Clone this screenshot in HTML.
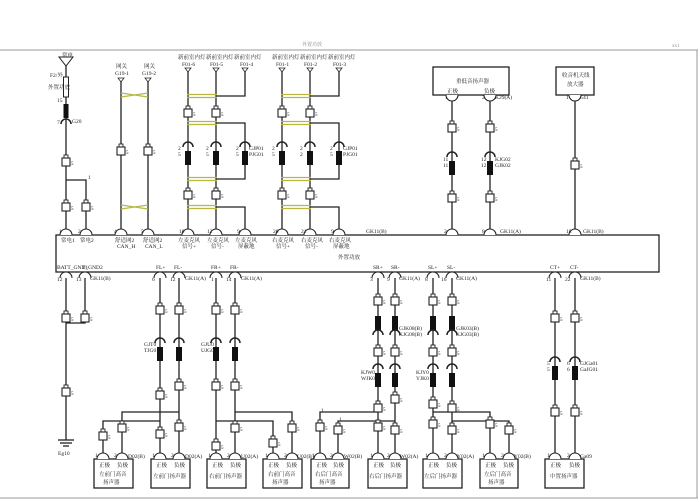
<!DOCTYPE html>
<html><head><meta charset="utf-8">
<style>
html,body{margin:0;padding:0;background:#fff;}
svg{display:block;font-family:"Liberation Serif","Noto Serif CJK SC","Noto Sans CJK SC",serif;}
text{font-size:5.5px;fill:#222;}
</style></head>
<body>
<svg width="700" height="502" viewBox="0 0 700 502" xmlns="http://www.w3.org/2000/svg">
<defs>
<g id="c"><rect x="-2" y="-7" width="4" height="3" fill="#fff" stroke="#222" stroke-width="0.9"/><rect x="-4" y="-4" width="8" height="8" fill="#fff" stroke="#222" stroke-width="1.1"/><text x="5" y="3" style="font-size:5px">5</text></g>
<g id="b"><path d="M-5,-4 A5,5 0 0 1 5,-4" fill="none" stroke="#222" stroke-width="1.5"/><rect x="-3" y="0" width="6" height="14" fill="#111"/></g>
<g id="bu"><rect x="-3" y="-14" width="6" height="14" fill="#111"/><path d="M-5,5 A5,5 0 0 1 5,5" fill="none" stroke="#222" stroke-width="1.5"/></g>
<path id="p" d="M-6,0 A6,6 0 0 1 6,0" fill="#fff" stroke="#222" stroke-width="1.1"/>
<g id="tw"><line x1="0" y1="-1.5" x2="30" y2="-1.5" stroke="#b8b840" stroke-width="1.3"/><line x1="0" y1="1.5" x2="30" y2="1.5" stroke="#b8b840" stroke-width="1.3"/></g>
</defs>

<!-- frame -->
<line x1="0" y1="50" x2="698" y2="50" stroke="#999" stroke-width="1"/>
<line x1="697" y1="50" x2="697" y2="498" stroke="#999" stroke-width="1"/>
<line x1="0" y1="498" x2="698" y2="498" stroke="#999" stroke-width="1"/>
<text x="302" y="46" style="font-size:5px;fill:#888">外置功放</text>
<text x="672" y="47" style="font-size:5px;fill:#888">xx1</text>

<g stroke="#222" stroke-width="1.3" fill="none">
<rect x="56" y="235" width="603" height="37"/>
<line x1="66" y1="66" x2="66" y2="235"/>
<polyline points="66,180 86,180 86,235"/>
<line x1="121" y1="78" x2="121" y2="235"/>
<line x1="148" y1="78" x2="148" y2="235"/>
<line x1="188" y1="68" x2="188" y2="235"/>
<line x1="216" y1="68" x2="216" y2="235"/>
<polyline points="245,68 245,96 216,96"/>
<polyline points="216,123 245,123 245,179 216,179"/>
<polyline points="216,207 245,207 245,235"/>
<line x1="282" y1="68" x2="282" y2="235"/>
<line x1="310" y1="68" x2="310" y2="235"/>
<polyline points="339,68 339,96 310,96"/>
<polyline points="310,123 339,123 339,179 310,179"/>
<polyline points="310,207 339,207 339,235"/>
<rect x="433" y="67" width="76" height="28"/>
<line x1="452" y1="95" x2="452" y2="235"/>
<line x1="490" y1="95" x2="490" y2="235"/>
<rect x="556" y="67" width="38" height="28"/>
<line x1="575" y1="95" x2="575" y2="235"/>

<line x1="66" y1="272" x2="66" y2="440"/>
<polyline points="85,272 85,323 66,323"/>
<line x1="58" y1="440" x2="74" y2="440"/>
<line x1="60" y1="443" x2="72" y2="443"/>
<line x1="63" y1="446" x2="69" y2="446"/>

<line x1="160" y1="272" x2="160" y2="459"/>
<line x1="179" y1="272" x2="179" y2="459"/>
<polyline points="122,459 122,412 179,412"/>
<polyline points="103,459 103,421 160,421"/>
<line x1="216" y1="272" x2="216" y2="459"/>
<line x1="235" y1="272" x2="235" y2="459"/>
<polyline points="292,459 292,412 235,412"/>
<polyline points="273,459 273,421 216,421"/>

<line x1="378" y1="272" x2="378" y2="459"/>
<line x1="395" y1="272" x2="395" y2="459"/>
<polyline points="320,459 320,412 378,412"/>
<polyline points="338,459 338,421 395,421"/>
<line x1="433" y1="272" x2="433" y2="459"/>
<line x1="452" y1="272" x2="452" y2="459"/>
<polyline points="490,459 490,412 433,412"/>
<polyline points="509,459 509,421 452,421"/>
<line x1="555" y1="272" x2="555" y2="459"/>
<line x1="575" y1="272" x2="575" y2="459"/>

<rect x="94" y="459" width="39" height="29"/>
<rect x="151" y="459" width="39" height="29"/>
<rect x="207" y="459" width="39" height="29"/>
<rect x="263" y="459" width="39" height="29"/>
<rect x="311" y="459" width="38" height="29"/>
<rect x="368" y="459" width="39" height="29"/>
<rect x="423" y="459" width="39" height="29"/>
<rect x="480" y="459" width="38" height="29"/>
<rect x="545" y="459" width="39" height="29"/>
</g>

<path d="M59,57 L73,57 L66,66 Z" fill="#fff" stroke="#222" stroke-width="1"/>
<rect x="63.5" y="77" width="5" height="20" fill="#fff" stroke="#222" stroke-width="1"/>
<rect x="63.5" y="104" width="5" height="14" fill="#111"/>
<path d="M61,124 A5,5 0 0 1 71,124" fill="none" stroke="#222" stroke-width="1.5"/>
<text x="62" y="57">常电</text>
<text x="50" y="77">F2/外</text>
<text x="48" y="89">外置功放</text>
<text x="57" y="102">15</text>
<text x="57" y="124">7</text><text x="72" y="123">G20</text>
<use href="#c" x="66" y="162"/><use href="#c" x="66" y="207"/><use href="#c" x="86" y="207"/>
<text x="88" y="179">1</text>

<g stroke="#b8b840" stroke-width="1.2" fill="none">
<path d="M121,93 L148,97 M121,97 L148,93"/>
<path d="M121,205 L148,209 M121,209 L148,205"/>
</g>
<path d="M118,78 L124,78 L121,82Z M145,78 L151,78 L148,82Z" fill="#fff" stroke="#222" stroke-width="0.8"/>
<text x="116" y="68">网关</text><text x="115" y="75">G19-1</text>
<text x="144" y="68">网关</text><text x="142" y="75">G19-2</text>
<use href="#c" x="121" y="151"/><use href="#c" x="148" y="151"/>

<path d="M185,68 L191,68 L188,72Z M213,68 L219,68 L216,72Z M242,68 L248,68 L245,72Z M279,68 L285,68 L282,72Z M307,68 L313,68 L310,72Z M336,68 L342,68 L339,72Z" fill="#fff" stroke="#222" stroke-width="0.8"/>
<text x="178" y="59">新前室内灯</text><text x="206" y="59">新前室内灯</text><text x="234" y="59">新前室内灯</text>
<text x="182" y="66">F01-6</text><text x="210" y="66">F01-5</text><text x="240" y="66">F01-4</text>
<text x="272" y="59">新前室内灯</text><text x="300" y="59">新前室内灯</text><text x="328" y="59">新前室内灯</text>
<text x="276" y="66">F01-1</text><text x="304" y="66">F01-2</text><text x="333" y="66">F01-3</text>
<use href="#tw" x="187" y="96"/><use href="#tw" x="187" y="123"/><use href="#tw" x="187" y="179"/><use href="#tw" x="187" y="207"/>
<use href="#tw" x="281" y="96"/><use href="#tw" x="281" y="123"/><use href="#tw" x="281" y="179"/><use href="#tw" x="281" y="207"/>
<use href="#c" x="188" y="113"/><use href="#c" x="216" y="113"/><use href="#c" x="282" y="113"/><use href="#c" x="310" y="113"/>
<use href="#c" x="188" y="195"/><use href="#c" x="216" y="195"/><use href="#c" x="282" y="195"/><use href="#c" x="310" y="195"/>
<use href="#b" x="188" y="151"/><use href="#b" x="216" y="151"/><use href="#b" x="245" y="151"/>
<use href="#b" x="282" y="151"/><use href="#b" x="310" y="151"/><use href="#b" x="339" y="151"/>
<text x="178" y="150">2</text><text x="178" y="156">5</text><text x="206" y="150">2</text><text x="206" y="156">5</text>
<text x="236" y="150">2</text><text x="236" y="156">5</text><text x="249" y="150">GJP01</text><text x="249" y="156">PJG01</text>
<text x="272" y="150">2</text><text x="272" y="156">5</text><text x="300" y="150">2</text><text x="300" y="156">2</text>
<text x="330" y="150">2</text><text x="330" y="156">5</text><text x="343" y="150">GJP01</text><text x="343" y="156">PJG01</text>

<text x="456" y="83">重低音扬声器</text>
<text x="447" y="93">正极</text><text x="484" y="93">负极</text>
<text x="562" y="77">收音机天线</text><text x="567" y="86">放大器</text>
<text x="445" y="99">1</text><text x="482" y="99">2</text><text x="495" y="99">K29(A)</text>
<text x="566" y="99">1</text><text x="579" y="99">G41</text>
<use href="#p" x="452" y="95" transform="rotate(180 452 95)"/>
<use href="#p" x="490" y="95" transform="rotate(180 490 95)"/>
<use href="#p" x="575" y="95" transform="rotate(180 575 95)"/>
<use href="#c" x="452" y="128"/><use href="#c" x="490" y="128"/>
<use href="#b" x="452" y="161"/><use href="#b" x="490" y="161"/>
<text x="443" y="161">11</text><text x="443" y="167">11</text><text x="481" y="161">12</text><text x="481" y="167">12</text>
<text x="495" y="161">KJG02</text><text x="495" y="167">GJK02</text>
<use href="#c" x="452" y="198"/><use href="#c" x="490" y="198"/>
<use href="#c" x="575" y="165"/>

<g>
<use href="#p" x="66" y="235"/><use href="#p" x="86" y="235"/><use href="#p" x="121" y="235"/><use href="#p" x="148" y="235"/>
<use href="#p" x="188" y="235"/><use href="#p" x="216" y="235"/><use href="#p" x="245" y="235"/>
<use href="#p" x="282" y="235"/><use href="#p" x="310" y="235"/><use href="#p" x="339" y="235"/>
<use href="#p" x="452" y="235"/><use href="#p" x="490" y="235"/><use href="#p" x="575" y="235"/>
</g>
<text x="59" y="233">1</text><text x="78" y="233">2</text><text x="114" y="233">4</text><text x="141" y="233">5</text>
<text x="179" y="233">10</text><text x="207" y="233">12</text><text x="237" y="233">9</text>
<text x="273" y="233">20</text><text x="301" y="233">21</text><text x="331" y="233">9</text>
<text x="366" y="233">GK11(B)</text>
<text x="444" y="233">2</text><text x="482" y="233">8</text><text x="500" y="233">GK11(A)</text>
<text x="566" y="233">18</text><text x="583" y="233">GK11(B)</text>
<text x="61" y="242">常电1</text><text x="80" y="242">常电2</text>
<text x="115" y="242">舒适网2</text><text x="117" y="248">CAN_H</text>
<text x="143" y="242">舒适网2</text><text x="145" y="248">CAN_L</text>
<text x="178" y="242">左麦克风</text><text x="182" y="248">信号+</text>
<text x="207" y="242">左麦克风</text><text x="211" y="248">信号-</text>
<text x="235" y="242">左麦克风</text><text x="238" y="248">屏蔽地</text>
<text x="272" y="242">右麦克风</text><text x="276" y="248">信号+</text>
<text x="301" y="242">右麦克风</text><text x="305" y="248">信号-</text>
<text x="329" y="242">右麦克风</text><text x="333" y="248">屏蔽地</text>
<text x="338" y="259">外置功放</text>
<text x="57" y="269">BATT_GND1</text><text x="82" y="269">T_GND2</text>
<text x="156" y="269">FL+</text><text x="174" y="269">FL-</text><text x="211" y="269">FR+</text><text x="230" y="269">FR-</text>
<text x="373" y="269">SR+</text><text x="391" y="269">SR-</text><text x="428" y="269">SL+</text><text x="447" y="269">SL-</text>
<text x="550" y="269">CT+</text><text x="570" y="269">CT-</text>

<g transform="translate(0,278)">
<use href="#p" x="66"/><use href="#p" x="85"/><use href="#p" x="160"/><use href="#p" x="179"/><use href="#p" x="216"/><use href="#p" x="235"/>
<use href="#p" x="378"/><use href="#p" x="395"/><use href="#p" x="433"/><use href="#p" x="452"/><use href="#p" x="555"/><use href="#p" x="575"/>
</g>
<text x="57" y="281">12</text><text x="76" y="281">13</text><text x="90" y="280">GK11(B)</text>
<text x="152" y="281">6</text><text x="170" y="281">12</text><text x="185" y="280">GK11(A)</text>
<text x="211" y="281">1</text><text x="226" y="281">14</text><text x="241" y="280">GK11(A)</text>
<text x="370" y="281">3</text><text x="387" y="281">9</text><text x="399" y="280">GK11(A)</text>
<text x="425" y="281">8</text><text x="441" y="281">16</text><text x="456" y="280">GK11(A)</text>
<text x="546" y="281">11</text><text x="565" y="281">22</text><text x="580" y="280">GK11(B)</text>

<use href="#c" x="66" y="318"/><use href="#c" x="85" y="318"/><use href="#c" x="66" y="392"/>
<text x="58" y="455">Eg10</text>
<use href="#c" x="160" y="310"/><use href="#c" x="179" y="310"/><use href="#c" x="216" y="310"/><use href="#c" x="235" y="310"/>
<use href="#b" x="160" y="347"/><use href="#b" x="179" y="347"/><use href="#b" x="216" y="347"/><use href="#b" x="235" y="347"/>
<text x="144" y="346">GJT0</text><text x="144" y="352">TJG0</text><text x="201" y="346">GJU0</text><text x="201" y="352">UJG0</text>
<use href="#c" x="160" y="395"/><use href="#c" x="179" y="386"/><use href="#c" x="216" y="386"/><use href="#c" x="235" y="386"/>
<use href="#c" x="103" y="436"/><use href="#c" x="122" y="428"/><use href="#c" x="160" y="434"/><use href="#c" x="179" y="427"/>
<use href="#c" x="216" y="446"/><use href="#c" x="235" y="428"/><use href="#c" x="273" y="443"/><use href="#c" x="292" y="428"/>

<use href="#c" x="378" y="301"/><use href="#c" x="395" y="301"/><use href="#c" x="433" y="301"/><use href="#c" x="452" y="301"/>
<use href="#bu" x="378" y="330"/><use href="#bu" x="395" y="330"/><use href="#bu" x="433" y="330"/><use href="#bu" x="452" y="330"/>
<text x="399" y="330">GJK08(B)</text><text x="399" y="336">KJG08(B)</text><text x="456" y="330">GJK03(B)</text><text x="456" y="336">KJG03(B)</text>
<use href="#c" x="378" y="352"/><use href="#c" x="395" y="352"/><use href="#c" x="433" y="352"/><use href="#c" x="452" y="352"/>
<use href="#b" x="378" y="373"/><use href="#b" x="395" y="373"/><use href="#b" x="433" y="373"/><use href="#b" x="452" y="373"/>
<text x="361" y="374">KJW0</text><text x="361" y="380">WJK0</text><text x="416" y="374">KJY0</text><text x="416" y="380">YJK0</text>
<use href="#c" x="378" y="408"/><use href="#c" x="395" y="399"/><use href="#c" x="433" y="404"/><use href="#c" x="452" y="408"/>
<use href="#c" x="320" y="427"/><use href="#c" x="338" y="430"/><use href="#c" x="378" y="427"/><use href="#c" x="395" y="430"/>
<use href="#c" x="433" y="424"/><use href="#c" x="452" y="430"/><use href="#c" x="490" y="424"/><use href="#c" x="509" y="430"/>
<text x="321" y="412">1</text><text x="339" y="421">1</text>

<use href="#c" x="555" y="318"/><use href="#c" x="575" y="318"/>
<use href="#b" x="555" y="366"/><use href="#b" x="575" y="366"/>
<text x="547" y="365">5</text><text x="547" y="371">5</text><text x="567" y="365">6</text><text x="567" y="371">6</text>
<text x="580" y="365">GJGa01</text><text x="580" y="371">GaJG01</text>
<use href="#c" x="555" y="412"/><use href="#c" x="575" y="412"/>

<g>
<use href="#p" x="103" y="459"/><use href="#p" x="122" y="459"/><use href="#p" x="160" y="459"/><use href="#p" x="179" y="459"/>
<use href="#p" x="216" y="459"/><use href="#p" x="235" y="459"/><use href="#p" x="273" y="459"/><use href="#p" x="292" y="459"/>
<use href="#p" x="320" y="459"/><use href="#p" x="338" y="459"/><use href="#p" x="378" y="459"/><use href="#p" x="395" y="459"/>
<use href="#p" x="433" y="459"/><use href="#p" x="452" y="459"/><use href="#p" x="490" y="459"/><use href="#p" x="509" y="459"/>
<use href="#p" x="555" y="459"/><use href="#p" x="575" y="459"/>
</g>
<g style="font-size:5px">
<text x="95" y="457">1</text><text x="114" y="457">2</text><text x="128" y="458">D02(B)</text>
<text x="152" y="457">1</text><text x="171" y="457">2</text><text x="185" y="458">D02(A)</text>
<text x="208" y="457">1</text><text x="227" y="457">2</text><text x="241" y="458">U02(A)</text>
<text x="265" y="457">1</text><text x="284" y="457">2</text><text x="297" y="458">U02(B)</text>
<text x="312" y="457">1</text><text x="330" y="457">2</text><text x="344" y="458">W02(B)</text>
<text x="370" y="457">1</text><text x="387" y="457">2</text><text x="400" y="458">W02(A)</text>
<text x="425" y="457">1</text><text x="444" y="457">2</text><text x="457" y="458">Y02(A)</text>
<text x="482" y="457">1</text><text x="501" y="457">2</text><text x="514" y="458">Y02(B)</text>
<text x="547" y="457">1</text><text x="567" y="457">2</text><text x="580" y="458">Ga09</text>
</g>
<text x="99" y="467">正极</text><text x="117" y="467">负极</text><text x="99" y="476">左前门高音</text><text x="103" y="484">扬声器</text>
<text x="156" y="467">正极</text><text x="174" y="467">负极</text><text x="153" y="478">左前门扬声器</text>
<text x="212" y="467">正极</text><text x="230" y="467">负极</text><text x="209" y="478">右前门扬声器</text>
<text x="268" y="467">正极</text><text x="286" y="467">负极</text><text x="268" y="476">右前门高音</text><text x="272" y="484">扬声器</text>
<text x="316" y="467">正极</text><text x="333" y="467">负极</text><text x="315" y="476">右后门高音</text><text x="319" y="484">扬声器</text>
<text x="373" y="467">正极</text><text x="390" y="467">负极</text><text x="369" y="478">右后门扬声器</text>
<text x="428" y="467">正极</text><text x="446" y="467">负极</text><text x="424" y="478">左后门扬声器</text>
<text x="485" y="467">正极</text><text x="503" y="467">负极</text><text x="484" y="476">左后门高音</text><text x="488" y="484">扬声器</text>
<text x="550" y="467">正极</text><text x="569" y="467">负极</text><text x="550" y="478">中置扬声器</text>
</svg>
</body></html>
